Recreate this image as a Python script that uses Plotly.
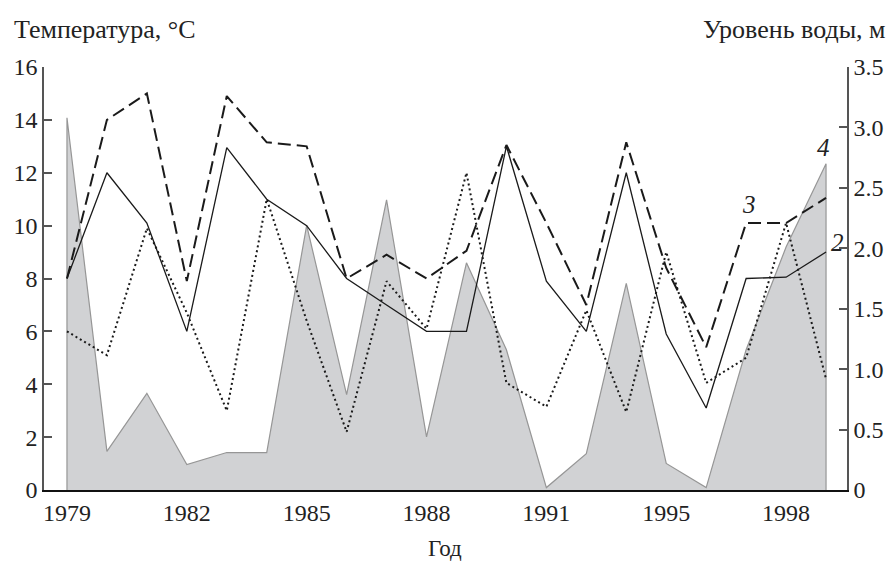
import plotly.graph_objects as go

# Years of observation (1993 absent in the series)
years = [1979, 1980, 1981, 1982, 1983, 1984, 1985, 1986, 1987, 1988,
         1989, 1990, 1991, 1992, 1994, 1995, 1996, 1997, 1998, 1999]
tick_years = [1979, 1982, 1985, 1988, 1991, 1995, 1998]
level_ticks = [0, 0.5, 1.0, 1.5, 2.0, 2.5, 3.0, 3.5]
level_ticktext = ["0", "0.5", "1.0", "1.5", "2.0", "2.5", "3.0", "3.5"]

# Temperature series, °C
temp_1 = [6.0, 5.1, 9.9, 6.7, 3.0, 11.0, 6.4, 2.2, 7.9, 6.1,
          12.0, 4.05, 3.15, 6.8, 2.95, 9.0, 4.05, 5.0, 10.1, 4.2]      # dotted
temp_2 = [8.0, 12.0, 10.1, 6.0, 12.95, 11.0, 10.0, 8.0, 7.0, 6.0,
          6.0, 13.0, 7.9, 6.0, 12.0, 5.9, 3.1, 8.0, 8.05, 9.0]         # solid
temp_3 = [8.0, 14.0, 15.0, 7.9, 14.9, 13.15, 13.0, 8.0, 8.9, 8.0,
          9.05, 13.05, 10.1, 7.0, 13.15, 8.4, 5.4, 10.1, 10.1, 11.05]  # dashed

# Water level, m
water_4 = [3.08, 0.32, 0.80, 0.21, 0.31, 0.31, 2.19, 0.79, 2.40, 0.44,
           1.88, 1.16, 0.02, 0.30, 1.71, 0.22, 0.02, 1.16, 2.01, 2.70]

pos = list(range(len(years)))
tickvals = [years.index(y) for y in tick_years]
ticktext = [str(y) for y in tick_years]

serif = "Liberation Serif, Times New Roman, serif"
txtc = "#222"

fig = go.Figure()

# Area (water level) on base axis (right side), closed to zero at both ends
fig.add_trace(go.Scatter(
    x=[pos[0]] + pos + [pos[-1]],
    y=[0] + water_4 + [0],
    yaxis="y", mode="lines", fill="toself",
    fillcolor="rgb(209,210,212)",
    line=dict(color="rgb(150,150,150)", width=1.2),
    hoverinfo="skip", showlegend=False))

# Temperature lines on overlaying axis (left side), drawn on top
fig.add_trace(go.Scatter(x=pos, y=temp_1, mode="lines", yaxis="y2",
                         line=dict(color="#1a1a1a", width=2, dash="2px,3px"),
                         showlegend=False))
fig.add_trace(go.Scatter(x=pos, y=temp_2, mode="lines", yaxis="y2",
                         line=dict(color="#1a1a1a", width=1.3),
                         showlegend=False))
fig.add_trace(go.Scatter(x=pos, y=temp_3, mode="lines", yaxis="y2",
                         line=dict(color="#1a1a1a", width=2, dash="13px,6px"),
                         showlegend=False))

tickfont = dict(family=serif, size=24, color=txtc)
titlefont = dict(family=serif, size=26, color=txtc)

fig.update_layout(
    width=892, height=562,
    margin=dict(l=44, r=45, t=67, b=72, autoexpand=False),
    paper_bgcolor="white", plot_bgcolor="white",
    font=dict(family=serif, size=24, color=txtc),
    xaxis=dict(range=[-0.575, 19.525], tickvals=tickvals, ticktext=ticktext,
               showgrid=False, zeroline=False, showline=True, automargin=False,
               linecolor="#111", linewidth=2, ticks="",
               tickfont=tickfont),
    yaxis=dict(range=[0, 3.5], tickvals=level_ticks, ticktext=level_ticktext,
               side="right", automargin=False,
               showgrid=False, zeroline=False, showline=True,
               linecolor="#555", linewidth=1.5,
               ticks="inside", ticklen=8, tickcolor="#555", tickwidth=1.5,
               tickfont=tickfont),
    yaxis2=dict(range=[0, 16], dtick=2, overlaying="y", side="left",
                automargin=False,
                showgrid=False, zeroline=False, showline=True,
                linecolor="#555", linewidth=1.5,
                ticks="inside", ticklen=8, tickcolor="#555", tickwidth=1.5,
                tickfont=tickfont),
)

fig.add_annotation(text="Температура, °C", xref="paper", yref="paper",
                   x=-32/803, y=1 + 37/423, xanchor="left", yanchor="middle",
                   showarrow=False, font=titlefont)
fig.add_annotation(text="Уровень воды, м", xref="paper", yref="paper",
                   x=1 + 41/803, y=1 + 37/423, xanchor="right", yanchor="middle",
                   showarrow=False, font=titlefont)
fig.add_annotation(text="Год", xref="paper", yref="paper",
                   x=(445 - 44) / 803, y=-(548 - 490) / 423,
                   xanchor="center", yanchor="middle", showarrow=False,
                   font=dict(family=serif, size=23, color=txtc))

# Series labels
labfont = dict(family=serif, size=25, color=txtc)
fig.add_annotation(text="<i>3</i>", x=17, y=10.1, yref="y2", xshift=3, yshift=18,
                   showarrow=False, font=labfont)
fig.add_annotation(text="<i>4</i>", x=19, y=12.35, yref="y2", xshift=-3, yshift=16,
                   showarrow=False, font=labfont)
fig.add_annotation(text="<i>2</i>", x=19, y=9.0, yref="y2", xshift=11, yshift=10,
                   showarrow=False, font=labfont)

fig.write_html("out.html", config={"displayModeBar": False},
               post_script="document.body.style.margin='0';")
